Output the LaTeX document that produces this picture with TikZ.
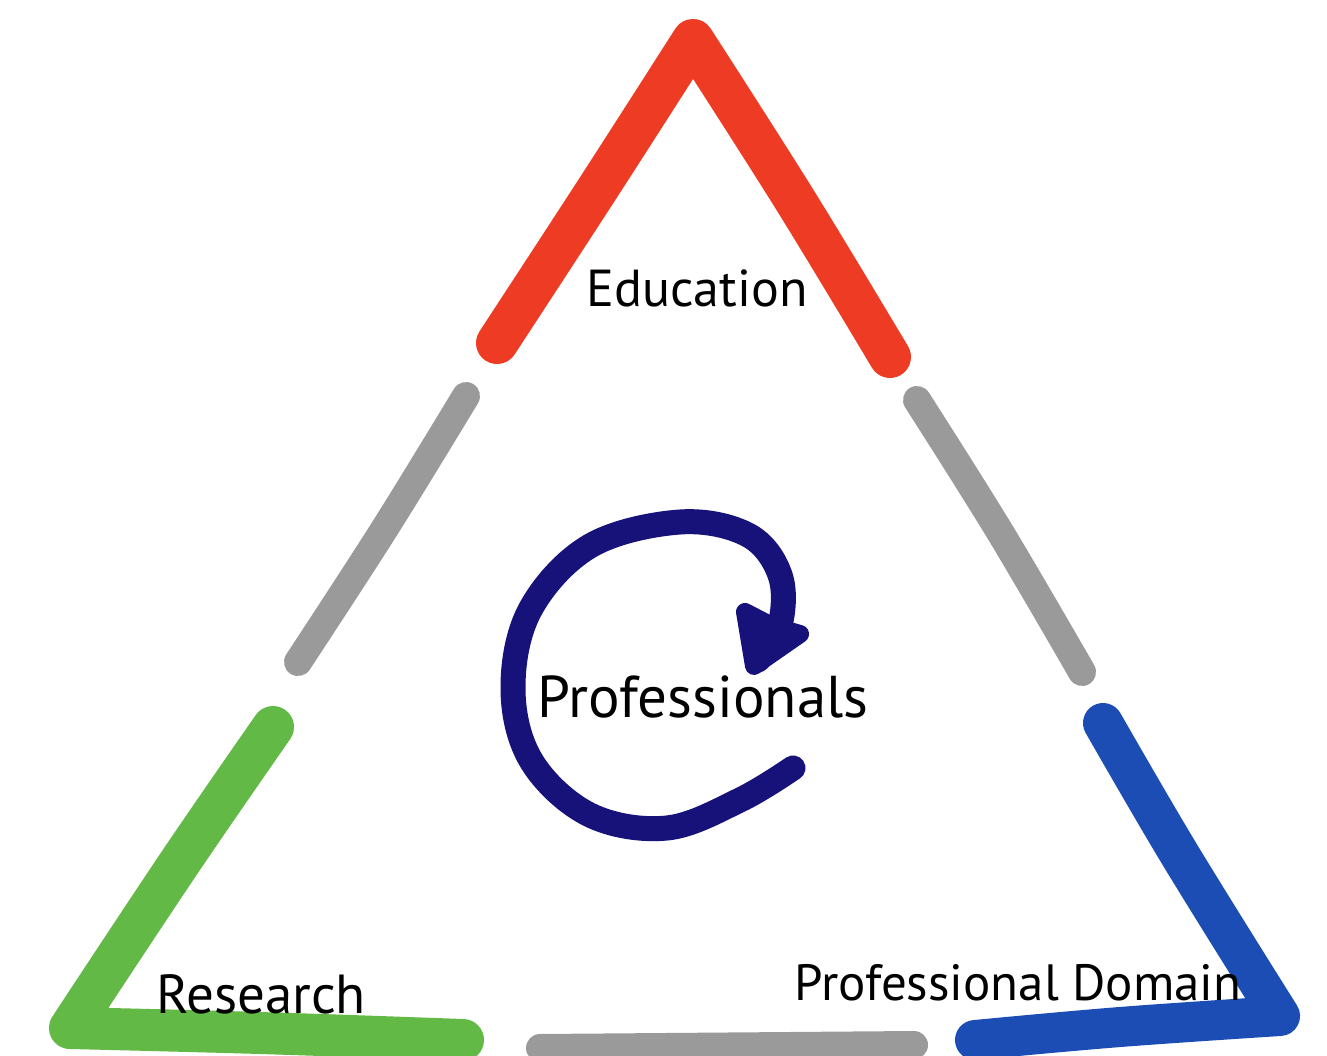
\documentclass[tikz,border=0pt]{standalone}
\usepackage{fontspec}
\setmainfont{PT Sans}
\begin{document}
\begin{tikzpicture}[x=1pt,y=-1pt,
  stroke/.style={line cap=round,line join=round},
  label/.style={inner sep=0pt,anchor=base,text=black}]
\definecolor{edured}{HTML}{EE3B24}
\definecolor{linkgray}{HTML}{9A9A9A}
\definecolor{resgreen}{HTML}{62B946}
\definecolor{domblue}{HTML}{1B4DB5}
\definecolor{cyclenavy}{HTML}{17127A}
\useasboundingbox[fill=white] (0,0) rectangle (1327,1056);

% corner strokes of the triangle
\draw[stroke,edured,line width=42pt] plot[smooth,tension=0.6] coordinates
  {(497,343) (600,185) (693,40)}
  -- plot[smooth,tension=0.6] coordinates {(693,40) (795,200) (890,357)};
\draw[stroke,resgreen,line width=42pt] plot[smooth,tension=0.6] coordinates
  {(273,727) (180,862) (70,1028)}
  -- plot[smooth,tension=0.6] coordinates {(70,1028) (260,1033) (463,1040)};
\draw[stroke,domblue,line width=40pt] plot[smooth,tension=0.6] coordinates
  {(1103,723) (1180,855) (1280,1016)}
  -- plot[smooth,tension=0.6] coordinates {(1280,1016) (1120,1027) (975,1040)};

% gray links between the corners
\draw[stroke,linkgray,line width=28pt] plot[smooth,tension=0.6] coordinates
  {(466,396) (385,528) (298,662)};
\draw[stroke,linkgray,line width=28pt] plot[smooth,tension=0.6] coordinates
  {(917,400) (1000,532) (1082,672)};
\draw[stroke,linkgray,line width=28pt] (540,1048) -- (914,1045);

% circular arrow around the centre
\draw[stroke,cyclenavy,line width=25pt] plot[smooth,tension=0.6] coordinates
  {(793,768) (740,800) (667,828) (590,815) (532,762) (513,690) (530,610)
   (590,546) (680,522) (748,535) (780,575) (780,625) (758,660)};
\filldraw[stroke,cyclenavy,line width=18pt] (745,612) -- (754,666) -- (800,634) -- (772,626) -- cycle;

% labels
\node[label,font=\fontsize{52}{56}\selectfont] (edu) at (697,307) {Education};
\node[label,font=\fontsize{59}{63}\selectfont] (pro) at (703,717) {Professionals};
\node[label,font=\fontsize{55}{59}\selectfont] (res) at (261,1013) {Research};
\node[label,font=\fontsize{51}{55}\selectfont] (dom) at (1018,1000) {Professional Domain};
\end{tikzpicture}
\end{document}
